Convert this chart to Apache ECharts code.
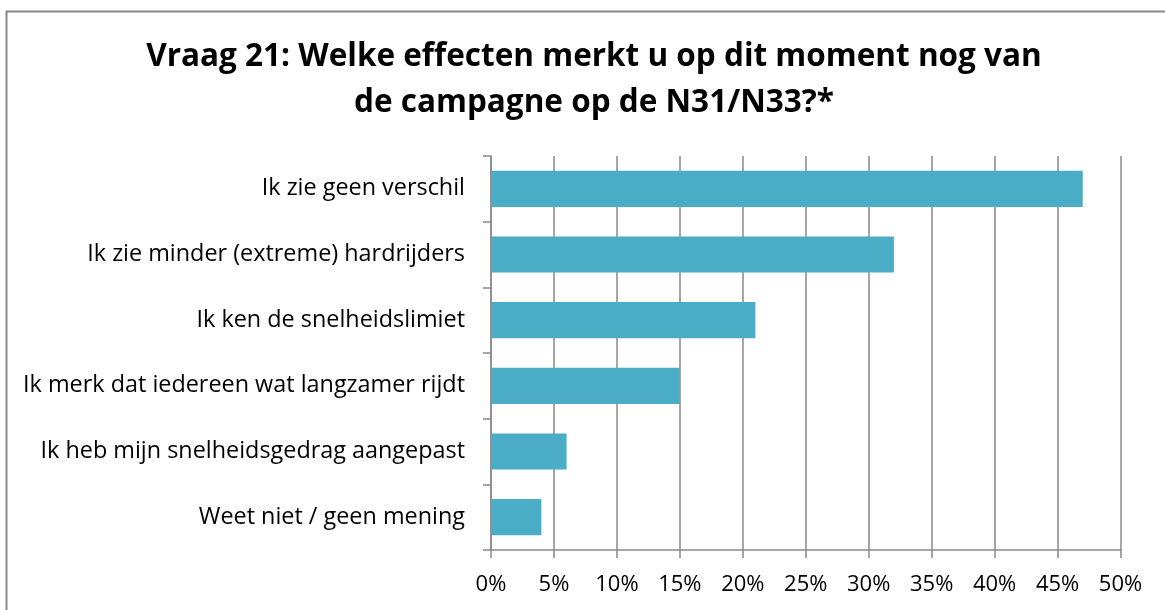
<!DOCTYPE html>
<html>
<head>
<meta charset="utf-8">
<script src="https://cdn.jsdelivr.net/npm/echarts@6/dist/echarts.min.js"></script>
<style>
html,body{margin:0;padding:0;background:#fff;}
#chart{width:1165px;height:610px;}
</style>
</head>
<body>
<div id="chart"></div>
<script>
var categories = [
  'Ik zie geen verschil',
  'Ik zie minder (extreme) hardrijders',
  'Ik ken de snelheidslimiet',
  'Ik merk dat iedereen wat langzamer rijdt',
  'Ik heb mijn snelheidsgedrag aangepast',
  'Weet niet / geen mening'
];
var values = [47, 32, 21, 15, 6, 4];
var titleLines = ['Vraag 21: Welke effecten merkt u op dit moment nog van', 'de campagne op de N31/N33?*'];

var FONT = 'Open Sans';
var chart = echarts.init(document.getElementById('chart'), null, {renderer: 'canvas'});
chart.setOption({
  animation: false,
  backgroundColor: '#ffffff',
  title: {
    text: titleLines.join('\n'),
    left: 589,
    textAlign: 'center',
    top: 29,
    textStyle: {fontFamily: FONT, fontWeight: 'bold', fontSize: 31.5, color: '#000', lineHeight: 46}
  },
  graphic: [{
    type: 'rect',
    shape: {x: 6.5, y: 11.5, width: 1300, height: 800},
    style: {fill: 'none', stroke: '#898989', lineWidth: 2},
    silent: true,
    z: 100
  }],
  grid: {left: 491, right: 44.5, top: 156, bottom: 60, containLabel: false},
  xAxis: {
    type: 'value',
    min: 0, max: 50, interval: 5,
    axisLine: {show: true, lineStyle: {color: '#898989', width: 1.5}},
    axisTick: {show: true, length: 8, inside: false, lineStyle: {color: '#898989', width: 1.5}},
    splitLine: {show: true, lineStyle: {color: '#898989', width: 1.5}},
    axisLabel: {formatter: '{value}%', fontFamily: FONT, fontSize: 22, color: '#000', margin: 24}
  },
  yAxis: {
    type: 'category',
    data: categories,
    inverse: true,
    axisLine: {show: true, lineStyle: {color: '#898989', width: 1.5}},
    axisTick: {show: true, length: 8, inside: false, alignWithLabel: false, lineStyle: {color: '#898989', width: 1.5}},
    axisLabel: {fontFamily: FONT, fontSize: 23.4, color: '#000', margin: 26}
  },
  series: [{
    type: 'bar',
    data: values,
    barCategoryGap: '45%',
    itemStyle: {color: '#4BACC6'}
  }]
});
</script>
</body>
</html>
